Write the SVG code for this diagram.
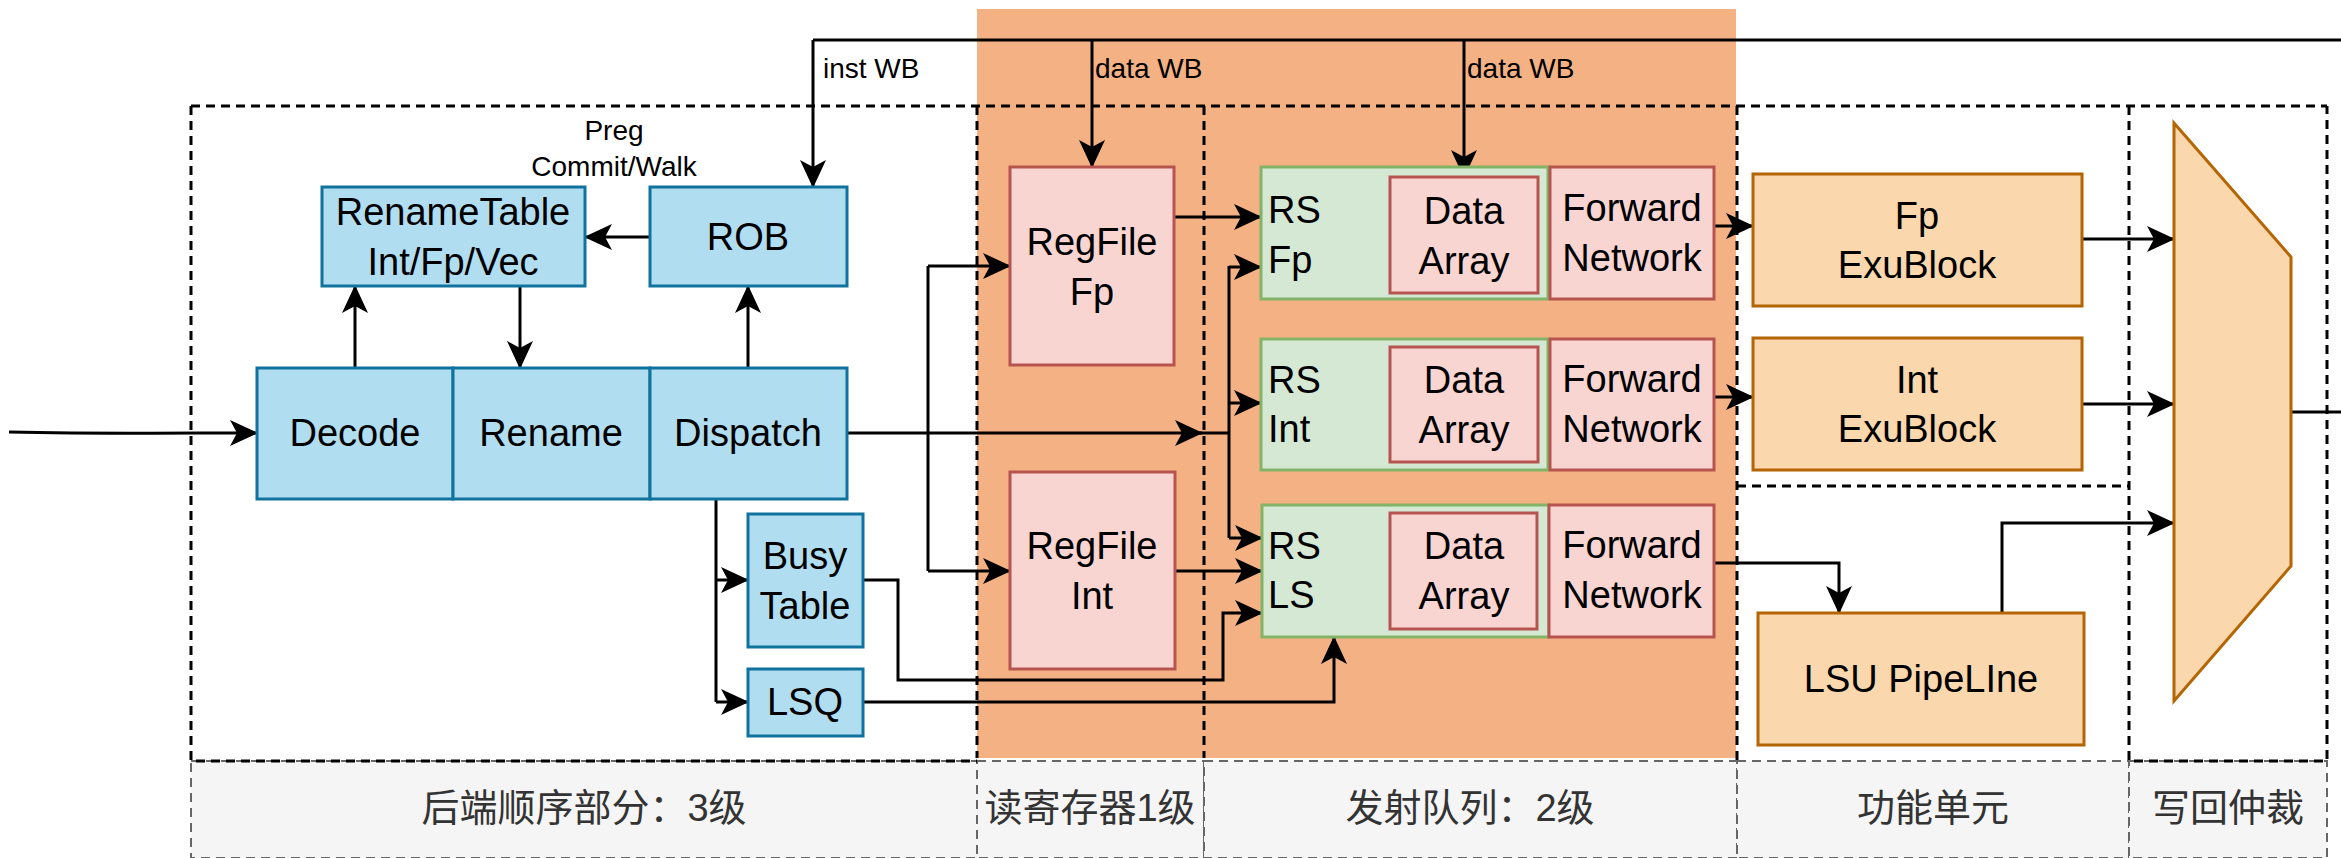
<svg xmlns="http://www.w3.org/2000/svg" width="2341" height="858" viewBox="0 0 2341 858">
  <style>
    text { font-family: "Liberation Sans", "Noto Sans CJK SC", sans-serif; fill: #000; }
    .t { font-size: 38px; text-anchor: middle; dominant-baseline: central; }
    .tl { font-size: 38px; text-anchor: start; dominant-baseline: central; }
    .s { font-size: 28px; dominant-baseline: central; }
    .cap { font-size: 38px; text-anchor: middle; dominant-baseline: central; fill: #333; }
    .blue { fill: #b1ddf0; stroke: #10739e; stroke-width: 3; }
    .pink { fill: #f8d5d1; stroke: #b85450; stroke-width: 3; }
    .green { fill: #d5e8d4; stroke: #82b366; stroke-width: 3; }
    .orng { fill: #fad7ac; stroke: #b46504; stroke-width: 3; }
    .dash { fill: none; stroke: #000; stroke-width: 3; stroke-dasharray: 9 6; }
    .lab { fill: #f5f5f5; stroke: #666; stroke-width: 2; stroke-dasharray: 9 6; }
    .w { fill: none; stroke: #000; stroke-width: 3; }
    .a { marker-end: url(#arr); }
  </style>
  <defs>
    <marker id="arr" viewBox="-30 -15 32 30" markerWidth="32" markerHeight="30" refX="0" refY="0" orient="auto" markerUnits="userSpaceOnUse">
      <path d="M1,0 L-27,-13 L-20,0 L-27,13 Z" fill="#000"/>
    </marker>
  </defs>

  <!-- stage backgrounds -->
  <g id="stages">
    <rect x="977" y="9" width="759" height="749" fill="#f4b183"/>
    <rect class="lab" x="191" y="761" width="786" height="97"/>
    <rect class="lab" x="977" y="761" width="227" height="97"/>
    <rect class="lab" x="1204" y="761" width="533" height="97"/>
    <rect class="lab" x="1737" y="761" width="392" height="97"/>
    <rect class="lab" x="2129" y="761" width="198" height="97"/>
    <path class="dash" d="M191,106 H2327 M191,106 V761 H977 M977,106 V758 M1204,106 V758 M1737,106 V761 M1737,486 H2129 M2129,106 V761 H2327 V106"/>
    <text class="cap" x="584" y="808">后端顺序部分：3级</text>
    <text class="cap" x="1090" y="808">读寄存器1级</text>
    <text class="cap" x="1470" y="808">发射队列：2级</text>
    <text class="cap" x="1933" y="808">功能单元</text>
    <text class="cap" x="2228" y="808">写回仲裁</text>
  </g>

  <!-- connectors -->
  <g id="connectors">
    <path class="w a" d="M9,432 C100,434 180,433 257,433"/>
    <path class="w a" d="M355,368 V286"/>
    <path class="w a" d="M520,286 V368"/>
    <path class="w a" d="M748,368 V286"/>
    <path class="w a" d="M650,237 H585"/>
    <path class="w" d="M2341,40 H813"/>
    <path class="w a" d="M813,40 V187"/>
    <path class="w a" d="M1092,40 V167"/>
    <path class="w a" d="M1464,40 V177"/>
    <path class="w a" d="M847,433 H1202"/>
    <path class="w" d="M1200,433 H1229 M1229,266 V538"/>
    <path class="w a" d="M1229,267 H1261"/>
    <path class="w a" d="M1229,403 H1261"/>
    <path class="w a" d="M1229,538 H1262"/>
    <path class="w" d="M928,266 V571"/>
    <path class="w a" d="M928,266 H1010"/>
    <path class="w a" d="M928,571 H1010"/>
    <path class="w a" d="M1174,217 H1261"/>
    <path class="w a" d="M1175,571 H1262"/>
    <path class="w" d="M716,499 V702"/>
    <path class="w a" d="M716,580 H748"/>
    <path class="w a" d="M716,702 H748"/>
    <path class="w a" d="M863,580 H898 V680 H1223 V613 H1262"/>
    <path class="w a" d="M863,702 H1334 V637"/>
    <path class="w a" d="M1714,226 H1753"/>
    <path class="w a" d="M1714,397 H1753"/>
    <path class="w a" d="M1714,563 H1839 V613"/>
    <path class="w a" d="M2082,239 H2174"/>
    <path class="w a" d="M2082,404 H2174"/>
    <path class="w a" d="M2002,613 V523 H2174"/>
    <path class="w" d="M2291,412 H2341"/>
    <text class="s" x="823" y="68">inst WB</text>
    <text class="s" x="1095" y="68">data WB</text>
    <text class="s" x="1467" y="68">data WB</text>
    <text class="s" x="614" y="130" text-anchor="middle">Preg</text>
    <text class="s" x="614" y="166" text-anchor="middle">Commit/Walk</text>
  </g>

  <!-- in-order back end -->
  <g id="rename-table">
    <rect class="blue" x="322" y="187" width="263" height="99"/>
    <text class="t" x="453" y="212">RenameTable</text>
    <text class="t" x="453" y="262">Int/Fp/Vec</text>
  </g>
  <g id="rob">
    <rect class="blue" x="650" y="187" width="197" height="99"/>
    <text class="t" x="748" y="237">ROB</text>
  </g>
  <g id="decode">
    <rect class="blue" x="257" y="368" width="196" height="131"/>
    <text class="t" x="355" y="433">Decode</text>
  </g>
  <g id="rename">
    <rect class="blue" x="453" y="368" width="197" height="131"/>
    <text class="t" x="551" y="433">Rename</text>
  </g>
  <g id="dispatch">
    <rect class="blue" x="650" y="368" width="197" height="131"/>
    <text class="t" x="748" y="433">Dispatch</text>
  </g>
  <g id="busy-table">
    <rect class="blue" x="748" y="514" width="115" height="133"/>
    <text class="t" x="805" y="556">Busy</text>
    <text class="t" x="805" y="606">Table</text>
  </g>
  <g id="lsq">
    <rect class="blue" x="748" y="669" width="115" height="67"/>
    <text class="t" x="805" y="702">LSQ</text>
  </g>

  <!-- register read -->
  <g id="regfile-fp">
    <rect class="pink" x="1010" y="167" width="164" height="198"/>
    <text class="t" x="1092" y="242">RegFile</text>
    <text class="t" x="1092" y="292">Fp</text>
  </g>
  <g id="regfile-int">
    <rect class="pink" x="1010" y="472" width="165" height="197"/>
    <text class="t" x="1092" y="546">RegFile</text>
    <text class="t" x="1092" y="596">Int</text>
  </g>

  <!-- issue queues -->
  <g id="rs-fp">
    <rect class="green" x="1261" y="167" width="287" height="132"/>
    <text class="tl" x="1268" y="210">RS</text>
    <text class="tl" x="1268" y="260">Fp</text>
    <rect class="pink" x="1390" y="177" width="148" height="116"/>
    <text class="t" x="1464" y="211">Data</text>
    <text class="t" x="1464" y="261">Array</text>
  </g>
  <g id="fwd-fp">
    <rect class="pink" x="1550" y="167" width="164" height="132"/>
    <text class="t" x="1632" y="208">Forward</text>
    <text class="t" x="1632" y="258">Network</text>
  </g>
  <g id="rs-int">
    <rect class="green" x="1261" y="339" width="287" height="131"/>
    <text class="tl" x="1268" y="380">RS</text>
    <text class="tl" x="1268" y="429">Int</text>
    <rect class="pink" x="1390" y="347" width="148" height="115"/>
    <text class="t" x="1464" y="380">Data</text>
    <text class="t" x="1464" y="430">Array</text>
  </g>
  <g id="fwd-int">
    <rect class="pink" x="1550" y="339" width="164" height="131"/>
    <text class="t" x="1632" y="379">Forward</text>
    <text class="t" x="1632" y="429">Network</text>
  </g>
  <g id="rs-ls">
    <rect class="green" x="1262" y="505" width="287" height="132"/>
    <text class="tl" x="1268" y="546">RS</text>
    <text class="tl" x="1268" y="595">LS</text>
    <rect class="pink" x="1390" y="513" width="147" height="116"/>
    <text class="t" x="1464" y="546">Data</text>
    <text class="t" x="1464" y="596">Array</text>
  </g>
  <g id="fwd-ls">
    <rect class="pink" x="1549" y="505" width="165" height="132"/>
    <text class="t" x="1632" y="545">Forward</text>
    <text class="t" x="1632" y="595">Network</text>
  </g>

  <!-- function units -->
  <g id="fp-exu">
    <rect class="orng" x="1753" y="174" width="329" height="132"/>
    <text class="t" x="1917" y="216">Fp</text>
    <text class="t" x="1917" y="265">ExuBlock</text>
  </g>
  <g id="int-exu">
    <rect class="orng" x="1753" y="338" width="329" height="132"/>
    <text class="t" x="1917" y="380">Int</text>
    <text class="t" x="1917" y="429">ExuBlock</text>
  </g>
  <g id="lsu">
    <rect class="orng" x="1758" y="613" width="326" height="132"/>
    <text class="t" x="1921" y="679">LSU PipeLIne</text>
  </g>

  <!-- write-back arbiter -->
  <g id="wb-mux">
    <polygon class="orng" points="2174,123 2291,257 2291,566 2174,701"/>
  </g>
</svg>
